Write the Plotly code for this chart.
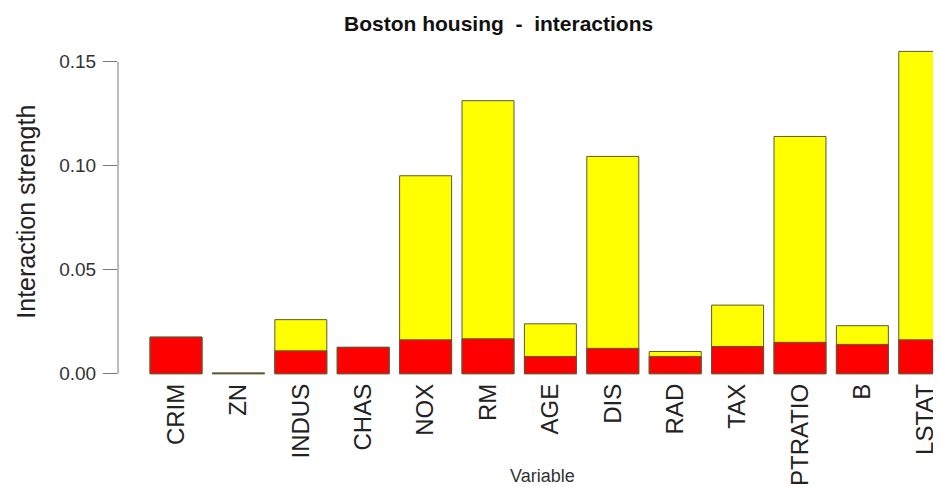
import plotly.graph_objects as go

variables = ["CRIM", "ZN", "INDUS", "CHAS", "NOX", "RM", "AGE", "DIS", "RAD", "TAX", "PTRATIO", "B", "LSTAT"]
interaction = [0.0176, 0.0004, 0.0260, 0.0127, 0.0952, 0.1313, 0.0240, 0.1045, 0.0107, 0.0330, 0.1141, 0.0231, 0.1550]
null_level = [0.0176, 0.0002, 0.0110, 0.0127, 0.0163, 0.0168, 0.0083, 0.0122, 0.0083, 0.0131, 0.0151, 0.0141, 0.0163]
yticks = [0.0, 0.05, 0.10, 0.15]
yticklabels = ["0.00", "0.05", "0.10", "0.15"]

FONT = "Liberation Sans, Arial, Helvetica, sans-serif"
outline = dict(color="#5a5a3a", width=1)

# the page body has an 8px margin, so the figure is sized to fit the window
W, H = 933, 479
L, T, B = 110, 33, 106
PW, PH = W - L, H - T - B

fig = go.Figure()
fig.add_trace(go.Bar(x=variables, y=interaction, marker=dict(color="#FFFF00", line=outline), showlegend=False))
fig.add_trace(go.Bar(x=variables, y=null_level, marker=dict(color="#FF0000", line=outline), showlegend=False))

fig.update_layout(
    width=W, height=H,
    barmode="overlay", bargap=0.167,
    paper_bgcolor="white", plot_bgcolor="white",
    margin=dict(l=L, r=0, t=T, b=B, autoexpand=False),
    font=dict(family=FONT, color="#222"),
    xaxis=dict(range=[-0.93, 12.26], showline=False, showgrid=False, zeroline=False,
               tickangle=-90, tickfont=dict(size=24, color="#222"), ticks="",
               ticklabelstandoff=-3, automargin=False),
    yaxis=dict(range=[-0.0035, 0.16], showline=False, showgrid=False, zeroline=False,
               tickvals=yticks, ticktext=yticklabels, ticks="outside", ticklen=14,
               tickcolor="#777", tickwidth=1, tickfont=dict(size=19, color="#333"),
               ticklabelstandoff=3, automargin=False),
)
fig.add_shape(type="line", xref="paper", yref="y", x0=0, x1=0, y0=0, y1=0.15,
              line=dict(color="#777", width=1))
fig.add_annotation(text="<b>Boston housing  -  interactions</b>", xref="paper", yref="paper",
                   x=(498 - 118) / PW, y=1, yshift=18, showarrow=False,
                   font=dict(size=21, color="#111"), xanchor="center", yanchor="middle")
fig.add_annotation(text="Interaction strength", xref="paper", yref="paper",
                   x=0, xshift=-92, y=(381.3 - 212) / PH, showarrow=False,
                   textangle=-90, font=dict(size=25, color="#222"), xanchor="center", yanchor="middle")
fig.add_annotation(text="Variable", xref="paper", yref="paper",
                   x=(542 - 118) / PW, y=0, yshift=-95, showarrow=False,
                   font=dict(size=18, color="#333"), xanchor="center", yanchor="middle")

fig.write_html("out.html")
